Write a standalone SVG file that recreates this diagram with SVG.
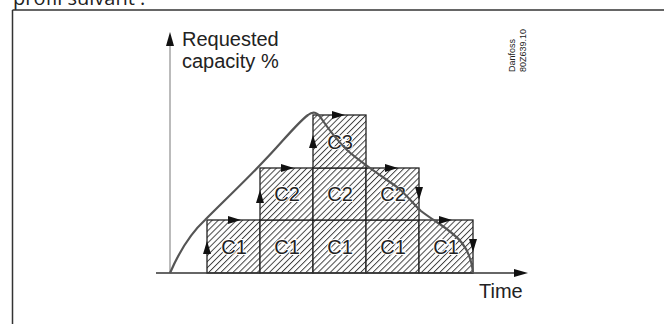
<svg xmlns="http://www.w3.org/2000/svg" width="664" height="324" viewBox="0 0 664 324">
<style>
.lbl{font-family:"Liberation Sans",Arial,sans-serif;font-size:20px;fill:#222}
.cl{font-family:"Liberation Sans",Arial,sans-serif;font-size:20px;fill:#222;text-anchor:middle;paint-order:stroke;stroke:#fff;stroke-width:2px}
.box{fill:url(#hatch);stroke:#222;stroke-width:1.3}
.ah{fill:#111}
.small{font-family:"Liberation Sans",Arial,sans-serif;font-size:9px;fill:#222}
</style>
<defs>
<pattern id="hatch" patternUnits="userSpaceOnUse" width="4.3" height="10" patternTransform="rotate(45)">
<rect width="4.3" height="10" fill="#fff"/>
<line x1="0.5" y1="0" x2="0.5" y2="10" stroke="#333" stroke-width="0.9"/>
</pattern>
</defs>
<rect width="664" height="324" fill="#fff"/>
<text x="13" y="5" style="font-family:'Open Sans','Noto Sans',sans-serif;font-size:20px;fill:#222">profil suivant :</text>
<g id="frame" fill="none" stroke="#333" stroke-width="1.5">
<line x1="12.5" y1="10" x2="664" y2="10"/>
<line x1="12.5" y1="10" x2="12.5" y2="324"/>
</g>
<g id="boxes">
<g id="c1a"><rect class="box" x="207" y="220" width="53" height="53"/><text class="cl" x="234" y="254">C1</text></g>
<g id="c1b"><rect class="box" x="260" y="220" width="53" height="53"/><text class="cl" x="287" y="254">C1</text></g>
<g id="c1c"><rect class="box" x="313" y="220" width="53" height="53"/><text class="cl" x="340" y="254">C1</text></g>
<g id="c1d"><rect class="box" x="366" y="220" width="53" height="53"/><text class="cl" x="393" y="254">C1</text></g>
<g id="c1e"><rect class="box" x="419" y="220" width="54" height="53"/><text class="cl" x="446" y="254">C1</text></g>
<g id="c2a"><rect class="box" x="260" y="168" width="53" height="52"/><text class="cl" x="287" y="201">C2</text></g>
<g id="c2b"><rect class="box" x="313" y="168" width="53" height="52"/><text class="cl" x="340" y="201">C2</text></g>
<g id="c2c"><rect class="box" x="366" y="168" width="53" height="52"/><text class="cl" x="393" y="201">C2</text></g>
<g id="c3"><rect class="box" x="313" y="115" width="53" height="53"/><text class="cl" x="340" y="149">C3</text></g>
</g>
<g id="axes">
<line x1="170" y1="44" x2="170" y2="273" stroke="#aaa" stroke-width="1.6"/>
<polygon class="ah" points="170,32 166,46 174,46"/>
<line x1="156" y1="273" x2="516" y2="273" stroke="#333" stroke-width="1.3"/>
<polygon class="ah" points="528,273 514,269 514,277"/>
</g>
<g id="connectors">
<path d="M170,273 C180,250 192,232 205,220 C225,200 248,178 262,163 C280,145 296,124 308,115 C313,111 317,112 321,118 C327,127 335,138 347,150 C360,162 380,175 397,187 C408,196 413,204 421,211 C435,222 452,230 462,243 C469,252 472,262 473,273" fill="none" stroke="#555" stroke-width="2.2"/>
<polygon class="ah" points="207,241 203,254 211,254"/>
<polygon class="ah" points="241,220 228,216 228,224"/>
<polygon class="ah" points="260,190 256,203 264,203"/>
<polygon class="ah" points="294,168 281,164 281,172"/>
<polygon class="ah" points="313,135 309,148 317,148"/>
<polygon class="ah" points="345,115 332,111 332,119"/>
<polygon class="ah" points="398,168 385,164 385,172"/>
<polygon class="ah" points="419,200 415,187 423,187"/>
<polygon class="ah" points="452,220 439,216 439,224"/>
<polygon class="ah" points="473,252 469,239 477,239"/>
</g>
<g id="labels">
<text class="lbl" x="182" y="46">Requested</text>
<text class="lbl" x="182" y="68">capacity %</text>
<text class="lbl" x="479" y="298">Time</text>
<text class="small" transform="translate(515,72) rotate(-90)">Danfoss</text>
<text class="small" transform="translate(526,72) rotate(-90)">80Z639.10</text>
</g>
</svg>
